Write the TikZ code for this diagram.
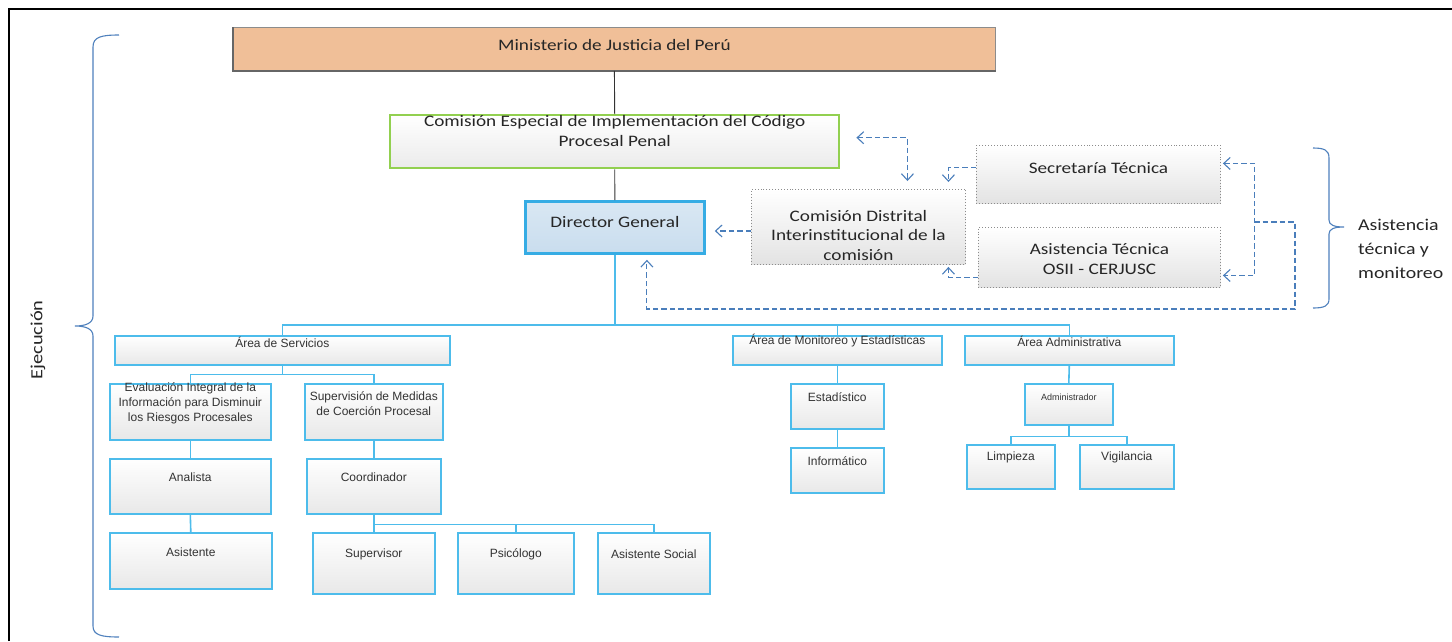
\documentclass[tikz,border=0pt]{standalone}
\usepackage{fontspec}
\setmainfont{Liberation Sans}
\newfontfamily\cfont[FakeStretch=1.2]{Carlito}
\usetikzlibrary{arrows.meta}
\definecolor{obl}{HTML}{4DBCEB}
\definecolor{dgb}{HTML}{36ACE4}
\definecolor{dgf}{HTML}{C9DDEE}
\definecolor{grn}{HTML}{92D050}
\definecolor{peach}{HTML}{F0BF98}
\definecolor{dsh}{HTML}{4A7EBB}
\definecolor{brc}{HTML}{4F81BD}
\tikzset{
  ob/.style={draw=obl, line width=1.6pt, top color=white, bottom color=black!9, inner sep=0pt},
  dgbox/.style={draw=dgb, line width=2.8pt, top color=dgf!70, bottom color=dgf, inner sep=0pt},
  cebox/.style={draw=grn, line width=2.4pt, top color=white, bottom color=black!8, inner sep=0pt},
  mjbox/.style={draw=black!45, line width=0.8pt, fill=peach, inner sep=0pt},
  dotbox/.style={draw=black!45, dotted, line width=0.9pt, top color=white, bottom color=black!11, inner sep=0pt},
  atxt/.style={font=\fontsize{12}{15}\selectfont, align=center, anchor=center, inner sep=0pt, text=black!80},
  smalltxt/.style={font=\fontsize{9}{11}\selectfont, align=center, anchor=center, inner sep=0pt, text=black!80},
  ctxt/.style={font=\cfont\fontsize{16}{19.5}\selectfont, align=center, anchor=center, inner sep=0pt, text=black!85},
  mtxt/.style={font=\cfont\fontsize{16}{19}\selectfont, align=center, anchor=center, inner sep=0pt, text=black!85},
  ol/.style={draw=obl, line width=1.6pt},
  blk/.style={draw=black!80, line width=0.9pt},
  dar/.style={draw=dsh, line width=1.1pt, dash pattern=on 5.5pt off 3pt, >={Straight Barb[length=6.5pt,width=12pt]}},
  brace/.style={draw=brc, line width=1.1pt},
}
% style, label style, name, x1, y1, x2, y2, text offset, text
\newcommand\mybox[9]{%
  \node[#1, anchor=north west, minimum width=#6-#4, minimum height=#7-#5] (#3) at (#4,#5) {};
  \node[#2] (#3t) at ([yshift=-#8]#3.north) {#9};
}
\begin{document}
\begin{tikzpicture}[x=1pt, y=-1pt]
\useasboundingbox (0,0) rectangle (1452,641);
\fill[white] (0,0) rectangle (1452,641);
% frame
\draw[line width=2pt] (9,641) -- (9,9) -- (1452,9);

% top hierarchy
\mybox{mjbox}{mtxt}{mj}{233}{27}{995}{70}{18}{Ministerio de Justicia del Perú}
\draw[line width=2.2pt, black!60] (mj.north west) -- (mj.south west) -- (mj.south east);
\mybox{cebox}{ctxt}{ce}{389}{114}{838}{167}{17}{Comisión Especial de Implementación del Código\\Procesal Penal}
\mybox{dgbox}{ctxt}{dg}{524}{200}{703}{252}{22}{Director General}
\draw[blk] (mj.south) -- (ce.north);
\draw[blk] (ce.south) -- (dg.north);

% dotted boxes
\mybox{dotbox}{ctxt}{st}{976}{145}{1220}{203}{23}{Secretaría Técnica}
\mybox{dotbox}{ctxt}{cd}{751}{189}{965}{264}{46}{Comisión Distrital\\Interinstitucional de la\\comisión}
\mybox{dotbox}{ctxt}{at}{978}{227}{1220}{287}{32}{Asistencia Técnica\\OSII - CERJUSC}

% areas
\mybox{ob}{atxt}{as}{114}{335}{449}{364}{7}{Área de Servicios}
\mybox{ob}{atxt}{am}{732}{335}{941}{364}{6}{Área de Monitoreo y Estadísticas}
\mybox{ob}{atxt}{aa}{964}{335}{1173}{364}{6}{Área Administrativa}

\mybox{ob}{atxt}{ev}{109}{383}{270}{439}{20}{Evaluación Integral de la\\Información para Disminuir\\los Riesgos Procesales}
\mybox{ob}{atxt}{su}{304}{383}{442}{439}{20.5}{Supervisión de Medidas\\de Coerción Procesal}
\mybox{ob}{atxt}{an}{109}{458}{270}{513}{19}{Analista}
\mybox{ob}{atxt}{co}{306}{458}{440}{513}{19}{Coordinador}
\mybox{ob}{atxt}{asi}{109}{532}{271}{588}{20}{Asistente}
\mybox{ob}{atxt}{sp}{312}{532}{434}{593}{22}{Supervisor}
\mybox{ob}{atxt}{ps}{457}{532}{573}{593}{22}{Psicólogo}
\mybox{ob}{atxt}{aso}{597}{532}{709}{593}{22}{Asistente Social}

\mybox{ob}{atxt}{es}{790}{383}{883}{428}{14}{Estadístico}
\mybox{ob}{atxt}{inf}{790}{447}{883}{492}{14}{Informático}
\mybox{ob}{smalltxt}{ad}{1024}{383}{1112}{424}{14}{Administrador}
\mybox{ob}{atxt}{li}{966}{444}{1054}{488}{13}{Limpieza}
\mybox{ob}{atxt}{vi}{1079}{444}{1173}{488}{13}{Vigilancia}

% org connectors
\coordinate (bus) at ([yshift=10pt]as.north);
\draw[ol] (dg.south) -- (dg.south |- bus);
\draw[ol] (as.north) |- ([yshift=10pt]aa.north) -- (aa.north);
\draw[ol] (am.north) -- ([yshift=10pt]am.north);
\draw[ol] (ev.north) |- ([yshift=-9pt]as.south) -| (su.north);
\draw[ol] (as.south) -- ([yshift=-9pt]as.south);
\draw[ol] (ev.south) -- (an.north);
\draw[ol] (an.south) -- (asi.north);
\draw[ol] (su.south) -- (co.north);
\draw[ol] (co.south) -- (sp.north);
\draw[ol] ([yshift=-10pt]co.south) -| (ps.north);
\draw[ol] ([yshift=-10pt]co.south) -| (aso.north);
\draw[ol] (am.south) -- (es.north);
\draw[ol] (es.south) -- (inf.north);
\draw[ol] (aa.south) -- (ad.north);
\draw[ol] (li.north) |- ([yshift=-11pt]ad.south) -| (vi.north);
\draw[ol] (ad.south) -- ([yshift=-11pt]ad.south);

% dashed arrows
\draw[dar,<->] ([xshift=16pt,yshift=4pt]ce.east) -| ([xshift=49pt,yshift=8pt]cd.north);
\draw[dar,->] ([yshift=7pt]st.west) -| ([xshift=90pt,yshift=7pt]cd.north);
\draw[dar,->] ([yshift=-20pt]at.west) -| ([xshift=90pt,yshift=-2pt]cd.south);
\coordinate (dgR) at ([xshift=9pt]dg.east);
\coordinate (cdL) at ([yshift=-4pt]cd.west);
\draw[dar,->] (cdL) -- (dgR |- cdL);
\draw[dar,<->] ([xshift=2pt,yshift=11pt]st.east) -- ++(32,0) coordinate (rtop) |- ([xshift=2pt,yshift=-18pt]at.east);
\coordinate (br) at (1254,222);
\draw[dar,->] (br) -- ++(41,0) -- ++(0,87) -| ([xshift=32pt,yshift=-5pt]dg.south);

% braces
\draw[brace] (119,35) .. controls (101,35) and (93,37) .. (93,47) -- (93,316)
  .. controls (93,323) and (86,326) .. (75,326) .. controls (86,326) and (93,329) .. (93,336)
  -- (93,626) .. controls (93,635) and (101,637) .. (119,637);
\draw[brace] (1313,148) .. controls (1324,148) and (1329,150) .. (1329,158) -- (1329,220)
  .. controls (1329,225) and (1334,227) .. (1344,227) .. controls (1334,227) and (1329,229) .. (1329,234)
  -- (1329,299) .. controls (1329,306) and (1324,308) .. (1313,308);

\node[rotate=90, font=\cfont\fontsize{17}{20}\selectfont, text=black!85, inner sep=0pt] (ej) at (38,340) {Ejecución};
\node[anchor=north west, align=left, font=\cfont\fontsize{16.5}{24}\selectfont, text=black!85, inner sep=0pt] (atm) at (1358,219) {Asistencia\\técnica y\\monitoreo};
\end{tikzpicture}
\end{document}
